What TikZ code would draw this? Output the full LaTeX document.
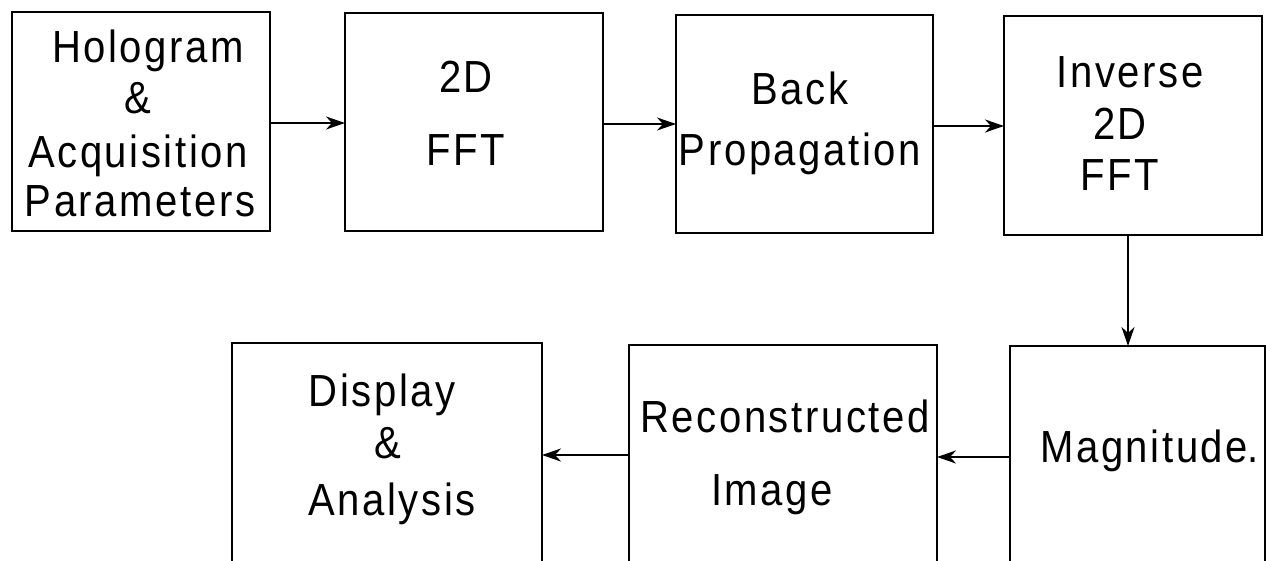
\documentclass[tikz,border=0pt]{standalone}
\usepackage{fontspec}
\setmainfont[FakeStretch=0.89,LetterSpace=5.8]{Liberation Sans}
\usetikzlibrary{arrows.meta}
\begin{document}
\begin{tikzpicture}[x=1pt,y=-1pt,
  box/.style={draw, rectangle, line width=2.4pt, inner sep=0pt, outer sep=0pt, anchor=north west},
  lbl/.style={anchor=base, inner sep=0pt, font=\fontsize{45}{51}\selectfont},
  flow/.style={line width=2.2pt, -{Stealth[length=19pt,width=13pt,inset=6pt]}}]
\useasboundingbox (0,0) rectangle (1266,561);
\clip (0,0) rectangle (1266,561);

% processing blocks, top row
\node[box, minimum width=258pt, minimum height=219pt] (hol)  at (12,12)   {};
\node[box, minimum width=258pt, minimum height=218pt] (fft)  at (345,13)  {};
\node[box, minimum width=257pt, minimum height=218pt] (bp)   at (676,15)  {};
\node[box, minimum width=258pt, minimum height=219pt] (ifft) at (1004,16) {};
% bottom row (runs past the lower edge)
\node[box, minimum width=255pt, minimum height=260pt] (mag)  at (1010,346) {};
\node[box, minimum width=308pt, minimum height=260pt] (rec)  at (629,345)  {};
\node[box, minimum width=310pt, minimum height=260pt] (disp) at (232,343)  {};

% labels
\node[lbl] (t1a) at (148,63)  {Hologram};
\node[lbl] (t1b) at (138,114) {\&};
\node[lbl] (t1c) at (138,168) {Acquisition};
\node[lbl] (t1d) at (140,217) {Parameters};

\node[lbl] (t2a) at (466,93)  {2D};
\node[lbl] (t2b) at (466,166) {FFT};

\node[lbl] (t3a) at (800,105) {Back};
\node[lbl] (t3b) at (800,166) {Propagation};

\node[lbl] (t4a) at (1130,88)  {Inverse};
\node[lbl] (t4b) at (1120,140) {2D};
\node[lbl] (t4c) at (1120,191) {FFT};

\node[lbl, anchor=base west] (t5) at (1040,462) {Magnitude\kern-1pt.};

\node[lbl] (t6a) at (785,432) {Reconstructed};
\node[lbl] (t6b) at (772,505) {Image};

\node[lbl] (t7a) at (382,406) {Display};
\node[lbl] (t7b) at (388,458) {\&};
\node[lbl] (t7c) at (392,515) {Analysis};

% data flow
\draw[flow] (hol.east |- 0,123) -- (fft.west |- 0,123);
\draw[flow] (fft.east |- 0,124) -- (bp.west |- 0,124);
\draw[flow] (bp.east |- 0,126) -- (ifft.west |- 0,126);
\draw[flow] (ifft.south -| 1128,0) -- (mag.north -| 1128,0);
\draw[flow] (mag.west |- 0,457) -- (rec.east |- 0,457);
\draw[flow] (rec.west |- 0,455) -- (disp.east |- 0,455);
\end{tikzpicture}
\end{document}
